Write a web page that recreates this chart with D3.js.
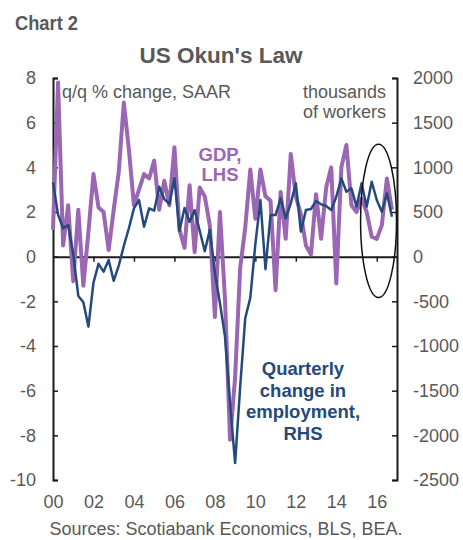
<!DOCTYPE html>
<html>
<head>
<meta charset="utf-8">
<script src="https://cdn.jsdelivr.net/npm/d3@7"></script>
<style>
  body { margin: 0; background: #fff; }
  text { font-family: "Liberation Sans", Arial, sans-serif; fill: #595959; }
</style>
</head>
<body>
<svg id="chart" width="463" height="540"></svg>
<script>
// quarterly, 2000Q1 .. 2016Q4
const quarters = d3.range(2000, 2017).flatMap(y => [1, 2, 3, 4].map(q => y + "Q" + q));

// real GDP, q/q % change SAAR (LHS)
const gdp = [
  1.2, 7.8, 0.5, 2.3,   -1.1, 2.1, -1.3, 1.1,   3.7, 2.2, 2.0, 0.3,
  2.1, 3.8, 6.9, 4.8,    2.3, 3.0, 3.7, 3.5,    4.3, 2.1, 3.4, 2.3,
  4.9, 1.2, 0.4, 3.2,    0.2, 3.1, 2.7, 1.4,   -2.7, 2.0, -1.9, -8.2,
  -5.4, -0.5, 1.3, 3.9,  1.7, 3.9, 2.7, 2.5,   -1.5, 2.9, 0.8, 4.6,
  2.7, 1.9, 0.5, 0.1,    2.8, 0.8, 3.1, 4.0,   -1.2, 4.0, 5.0, 2.3,
  2.0, 2.6, 2.0, 0.9,    0.8, 1.4, 3.5, 2.1
];

// quarterly change in employment, thousands (RHS)
const employment = [
  833, 470, 318, 355,      30, -440, -510, -783,   -290, -80, -168, -37,
  -270, -100, 120, 318,    541, 634, 335, 541,     515, 783, 645, 590,
  877, 290, 545, 390,      520, 290, 60, 300,      -180, -520, -895, -1640,
  -2310, -1455, -690, -460, 140, 634, -140, 466,   466, 653, 429, 597,
  821, 280, 522, 534,      623, 586, 567, 522,     671, 877, 727, 765,
  560, 821, 560, 839,      634, 504, 709, 448
];

const yearLabels = ["00", "02", "04", "06", "08", "10", "12", "14", "16"];
const leftTicks = d3.range(-10, 9, 2);
const rightTicks = d3.range(-2500, 2001, 500);

const purple = "#9b66b4";
const navy = "#244a7b";
const axisColor = "#1a1a1a";

const svg = d3.select("#chart");

const x = d3.scaleLinear().domain([0, quarters.length]).range([53, 397]);
const yL = d3.scaleLinear().domain([-10, 8]).range([480, 78]);
const yR = d3.scaleLinear().domain([-2500, 2000]).range([480, 78]);

// titles
svg.append("text")
  .attr("x", 15).attr("y", 30)
  .attr("textLength", 63).attr("lengthAdjust", "spacingAndGlyphs")
  .style("font-weight", "bold").style("font-size", "21px")
  .text("Chart 2");

svg.append("text")
  .attr("x", 221).attr("y", 63)
  .attr("text-anchor", "middle")
  .style("font-weight", "bold").style("font-size", "22.5px")
  .text("US Okun's Law");

// axes
const plain = d => String(d);

const leftAxis = svg.append("g")
  .attr("transform", `translate(${x(0)},0)`)
  .call(d3.axisLeft(yL).tickValues(leftTicks).tickFormat(plain)
    .tickSize(-5).tickSizeOuter(-5).tickPadding(17));

const rightAxis = svg.append("g")
  .attr("transform", `translate(${x(quarters.length)},0)`)
  .call(d3.axisRight(yR).tickValues(rightTicks).tickFormat(plain)
    .tickSize(-5).tickSizeOuter(-5).tickPadding(16));

const zeroAxis = svg.append("g")
  .attr("transform", `translate(0,${yL(0)})`)
  .call(d3.axisBottom(x).tickValues(d3.range(8, quarters.length, 8)).tickSize(5).tickSizeOuter(0).tickFormat(""));

const yearAxis = svg.append("g")
  .attr("transform", `translate(0,${yL(-10)})`)
  .call(d3.axisBottom(x).tickValues(d3.range(0, quarters.length, 8))
    .tickSize(0).tickPadding(15).tickFormat((d, i) => yearLabels[i]));
yearAxis.select(".domain").remove();

[leftAxis, rightAxis, zeroAxis].forEach(g => {
  g.select(".domain").attr("stroke", axisColor).attr("stroke-width", 2);
  g.selectAll(".tick line").attr("stroke", axisColor).attr("stroke-width", 1.5);
});
[leftAxis, rightAxis, yearAxis].forEach(g => {
  g.selectAll("text").style("font-size", "18px").attr("fill", "#595959");
});

// unit notes
svg.append("text")
  .attr("x", 62).attr("y", 98)
  .style("font-size", "18px")
  .text("q/q % change, SAAR");

svg.append("text")
  .attr("x", 386).attr("y", 98)
  .attr("text-anchor", "end")
  .style("font-size", "18px")
  .selectAll("tspan")
  .data(["thousands", "of workers"])
  .join("tspan")
  .attr("x", 386)
  .attr("dy", (d, i) => i ? 20 : 0)
  .text(d => d);

// series
const gdpLine = d3.line()
  .x((d, i) => x(i))
  .y(d => yL(d));

const empLine = d3.line()
  .x((d, i) => x(i))
  .y(d => yR(d));

svg.append("path")
  .datum(gdp)
  .attr("fill", "none")
  .attr("stroke", purple)
  .attr("stroke-width", 4)
  .attr("stroke-linejoin", "round")
  .attr("d", gdpLine);

svg.append("path")
  .datum(employment)
  .attr("fill", "none")
  .attr("stroke", navy)
  .attr("stroke-width", 2.5)
  .attr("stroke-linejoin", "round")
  .attr("d", empLine);

// series labels
svg.append("text")
  .attr("text-anchor", "middle")
  .style("font-weight", "bold").style("font-size", "18.5px")
  .style("fill", purple)
  .selectAll("tspan")
  .data(["GDP,", "LHS"])
  .join("tspan")
  .attr("x", 220)
  .attr("y", (d, i) => 161 + i * 20)
  .text(d => d);

svg.append("text")
  .attr("text-anchor", "middle")
  .style("font-weight", "bold").style("font-size", "18.5px")
  .style("fill", navy)
  .selectAll("tspan")
  .data(["Quarterly", "change in", "employment,", "RHS"])
  .join("tspan")
  .attr("x", 303)
  .attr("y", (d, i) => 375 + i * 21.7)
  .text(d => d);

// circled recent quarters
const circled = { from: 60.8, to: 67.9, lo: -1.83, hi: 5.03 };
svg.append("ellipse")
  .attr("cx", (x(circled.from) + x(circled.to)) / 2)
  .attr("cy", (yL(circled.lo) + yL(circled.hi)) / 2)
  .attr("rx", (x(circled.to) - x(circled.from)) / 2)
  .attr("ry", (yL(circled.lo) - yL(circled.hi)) / 2)
  .attr("fill", "none")
  .attr("stroke", "#111")
  .attr("stroke-width", 1.5);

// source
svg.append("text")
  .attr("x", 226).attr("y", 535)
  .attr("text-anchor", "middle")
  .style("font-size", "18px")
  .text("Sources: Scotiabank Economics, BLS, BEA.");
</script>
</body>
</html>
